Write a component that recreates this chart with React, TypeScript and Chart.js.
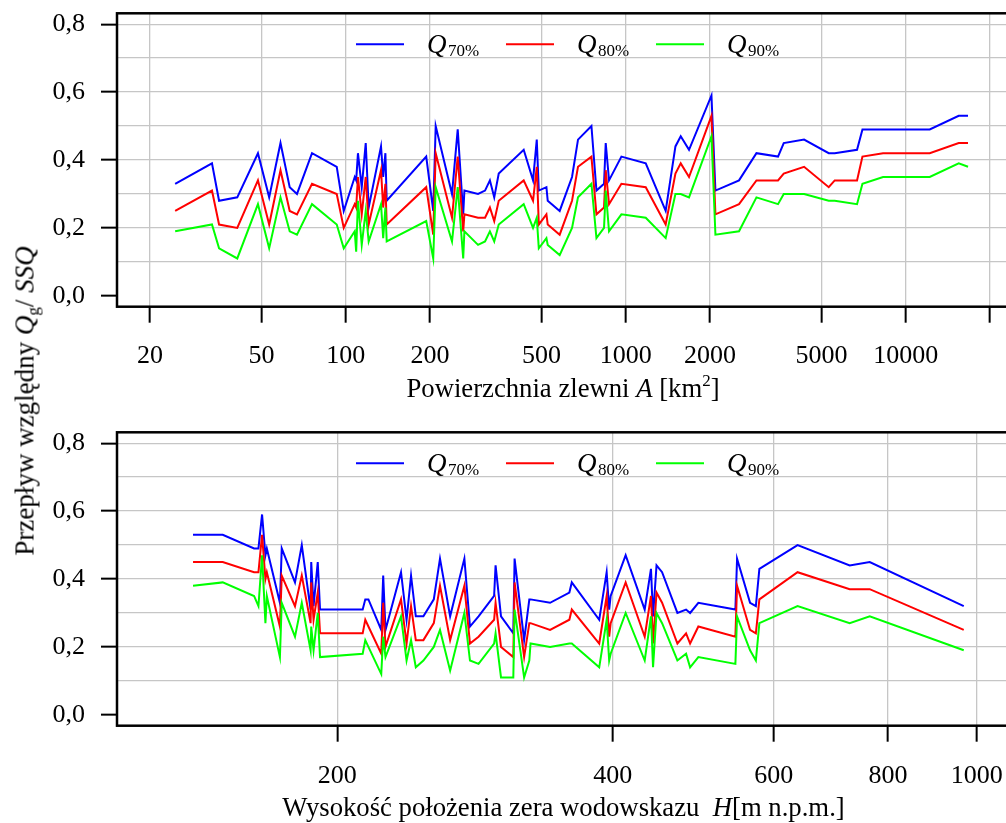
import React, { useEffect, useRef } from 'react';
import { Chart, registerables } from 'chart.js';

Chart.register(...registerables);

// ---------- DATA ----------
// Top panel: catchment area A [km2]
const topArea = [24.6, 33.3, 35.3, 41.0, 48.6, 53.3, 58.5, 63.1, 67.0, 75.8, 92.9, 98.4, 107.7, 109.0, 110.6, 114.1, 117.9, 120.8, 133.7, 136.1, 138.6, 140.1, 193.9, 205.4, 209.6, 239.7, 251.2, 262.8, 265.4, 296.9, 314.5, 327.3, 339.2, 352.0, 432.2, 466.7, 481.2, 489.3, 521.0, 526.6, 581.0, 643.1, 675.5, 754.3, 786.1, 836.6, 848.4, 871.8, 965.2, 1179, 1389, 1505, 1572, 1683, 2024, 2091, 2539, 2930, 3499, 3667, 4335, 5309, 5577, 6700, 7005, 8299, 12180, 15460, 16690];
const topQ70 = [0.33, 0.39, 0.28, 0.29, 0.42, 0.29, 0.45, 0.32, 0.30, 0.42, 0.38, 0.25, 0.35, 0.34, 0.42, 0.32, 0.45, 0.26, 0.44, 0.35, 0.42, 0.28, 0.41, 0.25, 0.50, 0.30, 0.49, 0.24, 0.31, 0.30, 0.31, 0.34, 0.29, 0.36, 0.43, 0.34, 0.46, 0.31, 0.32, 0.28, 0.25, 0.35, 0.46, 0.50, 0.31, 0.33, 0.45, 0.34, 0.41, 0.39, 0.25, 0.44, 0.47, 0.43, 0.59, 0.31, 0.34, 0.42, 0.41, 0.45, 0.46, 0.42, 0.42, 0.43, 0.49, 0.49, 0.49, 0.53, 0.53];
const topQ80 = [0.25, 0.31, 0.21, 0.20, 0.34, 0.21, 0.37, 0.25, 0.24, 0.33, 0.30, 0.20, 0.27, 0.26, 0.35, 0.24, 0.35, 0.21, 0.37, 0.26, 0.33, 0.21, 0.32, 0.18, 0.42, 0.23, 0.41, 0.19, 0.24, 0.23, 0.23, 0.26, 0.22, 0.28, 0.34, 0.28, 0.38, 0.21, 0.24, 0.21, 0.18, 0.28, 0.38, 0.41, 0.24, 0.26, 0.37, 0.27, 0.33, 0.32, 0.21, 0.36, 0.39, 0.35, 0.53, 0.24, 0.27, 0.34, 0.34, 0.36, 0.38, 0.32, 0.34, 0.34, 0.41, 0.42, 0.42, 0.45, 0.45];
const topQ90 = [0.19, 0.21, 0.14, 0.11, 0.27, 0.14, 0.29, 0.19, 0.18, 0.27, 0.21, 0.14, 0.19, 0.13, 0.28, 0.15, 0.25, 0.16, 0.27, 0.17, 0.26, 0.16, 0.22, 0.11, 0.32, 0.16, 0.32, 0.11, 0.19, 0.15, 0.16, 0.19, 0.16, 0.21, 0.27, 0.20, 0.23, 0.14, 0.17, 0.15, 0.12, 0.20, 0.29, 0.33, 0.17, 0.20, 0.31, 0.19, 0.24, 0.23, 0.17, 0.30, 0.30, 0.29, 0.47, 0.18, 0.19, 0.29, 0.27, 0.30, 0.30, 0.28, 0.28, 0.27, 0.33, 0.35, 0.35, 0.39, 0.38];
const topTicks = [20, 50, 100, 200, 500, 1000, 2000, 5000, 10000, 20000];
const topTickLabels = ['20', '50', '100', '200', '500', '1000', '2000', '5000', '10000', ''];

// Bottom panel: gauge zero elevation H [m a.s.l.]
const botHeight = [139.1, 149.9, 162.2, 164.0, 165.5, 166.9, 167.5, 173.1, 173.9, 179.8, 182.9, 187.0, 187.3, 188.4, 190.4, 191.5, 213.2, 214.6, 216.3, 223.4, 224.5, 225.8, 234.8, 238.1, 240.8, 243.7, 248.4, 255.0, 259.0, 265.7, 275.4, 279.3, 285.4, 296.8, 297.9, 302.0, 311.5, 312.5, 320.1, 324.3, 325.3, 341.7, 358.7, 360.9, 386.7, 394.0, 396.5, 398.0, 413.3, 433.6, 440.5, 442.8, 446.7, 453.0, 470.8, 481.2, 486.1, 496.3, 544.8, 547.1, 565.3, 573.6, 578.7, 637.1, 726.4, 764.0, 968.0];
const botQ70 = [0.53, 0.53, 0.49, 0.49, 0.59, 0.47, 0.49, 0.33, 0.49, 0.39, 0.50, 0.31, 0.45, 0.32, 0.45, 0.31, 0.31, 0.34, 0.34, 0.25, 0.41, 0.25, 0.42, 0.28, 0.41, 0.29, 0.29, 0.34, 0.46, 0.29, 0.46, 0.26, 0.29, 0.35, 0.44, 0.29, 0.24, 0.46, 0.22, 0.34, 0.34, 0.33, 0.36, 0.39, 0.28, 0.42, 0.31, 0.35, 0.47, 0.31, 0.43, 0.29, 0.44, 0.42, 0.30, 0.31, 0.30, 0.33, 0.31, 0.46, 0.33, 0.32, 0.43, 0.50, 0.44, 0.45, 0.32];
const botQ80 = [0.45, 0.45, 0.42, 0.42, 0.53, 0.40, 0.42, 0.26, 0.41, 0.32, 0.41, 0.27, 0.39, 0.28, 0.36, 0.24, 0.24, 0.28, 0.26, 0.18, 0.33, 0.20, 0.34, 0.21, 0.32, 0.22, 0.22, 0.27, 0.38, 0.22, 0.38, 0.21, 0.23, 0.28, 0.33, 0.20, 0.17, 0.39, 0.17, 0.27, 0.27, 0.25, 0.28, 0.31, 0.21, 0.35, 0.23, 0.27, 0.39, 0.23, 0.35, 0.21, 0.36, 0.33, 0.21, 0.24, 0.21, 0.26, 0.23, 0.38, 0.25, 0.24, 0.34, 0.42, 0.37, 0.37, 0.25];
const botQ90 = [0.38, 0.39, 0.35, 0.32, 0.47, 0.27, 0.35, 0.17, 0.33, 0.23, 0.33, 0.19, 0.26, 0.19, 0.30, 0.17, 0.18, 0.22, 0.20, 0.12, 0.23, 0.17, 0.29, 0.16, 0.22, 0.14, 0.16, 0.20, 0.25, 0.13, 0.30, 0.16, 0.15, 0.21, 0.24, 0.11, 0.11, 0.31, 0.11, 0.16, 0.21, 0.20, 0.21, 0.21, 0.14, 0.28, 0.16, 0.18, 0.30, 0.16, 0.29, 0.14, 0.30, 0.27, 0.16, 0.18, 0.14, 0.17, 0.15, 0.29, 0.19, 0.16, 0.27, 0.32, 0.27, 0.29, 0.19];
const botTicks = [200, 400, 600, 800, 1000];
const botTickLabels = ['200', '400', '600', '800', '1000'];

const yTicks = [0, 0.1, 0.2, 0.3, 0.4, 0.5, 0.6, 0.7, 0.8];
const yTickLabels = ['0,0', '', '0,2', '', '0,4', '', '0,6', '', '0,8'];

const seriesSubs = ['70%', '80%', '90%'];
const seriesColors = ['#0000ff', '#ff0000', '#00ff00'];

// ---------- STYLE ----------
const FONT = "'Liberation Serif', 'DejaVu Serif', serif";
const GRID = '#c6c6c6';

type Run = { t: string; size: number; italic?: boolean; dy?: number };

function drawRuns(ctx: any, runs: Run[], x: number, y: number, align: 'left' | 'center') {
  ctx.save();
  ctx.textBaseline = 'alphabetic';
  ctx.textAlign = 'left';
  ctx.fillStyle = '#000';
  const fonts = runs.map((r) => `${r.italic ? 'italic ' : ''}${r.size}px ${FONT}`);
  let total = 0;
  const widths = runs.map((r, i) => {
    ctx.font = fonts[i];
    const w = ctx.measureText(r.t).width;
    total += w;
    return w;
  });
  let cx = align === 'center' ? x - total / 2 : x;
  runs.forEach((r, i) => {
    ctx.font = fonts[i];
    ctx.fillText(r.t, cx, y + (r.dy || 0));
    cx += widths[i];
  });
  ctx.restore();
}

function makeConfig(p: any) {
  const datasets = [p.q70, p.q80, p.q90].map((vals: number[], i: number) => ({
    label: seriesSubs[i],
    data: p.xs.map((x: number, j: number) => ({ x, y: vals[j] })),
    borderColor: seriesColors[i],
    backgroundColor: seriesColors[i],
    borderWidth: 2,
    pointRadius: 0,
    tension: 0,
    fill: false,
    order: 2 - i,
  }));

  const zeroPad = (s: any) => {
    s.paddingLeft = 0;
    s.paddingRight = 0;
    s.paddingTop = 0;
    s.paddingBottom = 0;
  };

  const decorPlugin = {
    id: 'decor' + p.id,
    afterDraw(chart: any) {
      const { ctx, chartArea: a } = chart;
      // frame
      ctx.save();
      ctx.strokeStyle = '#000';
      ctx.lineWidth = 2.5;
      ctx.strokeRect(a.left, a.top, a.right - a.left, a.bottom - a.top);
      ctx.restore();
      // legend
      const ly = a.top + 31;
      for (let i = 0; i < 3; i++) {
        const x0 = a.left + 239 + i * 150;
        ctx.save();
        ctx.strokeStyle = seriesColors[i];
        ctx.lineWidth = 2;
        ctx.beginPath();
        ctx.moveTo(x0, ly);
        ctx.lineTo(x0 + 48, ly);
        ctx.stroke();
        ctx.restore();
        drawRuns(
          ctx,
          [
            { t: 'Q', size: 27, italic: true },
            { t: ' ', size: 6 },
            { t: seriesSubs[i], size: 17, dy: 3 },
          ],
          x0 + 71,
          a.top + 39.5,
          'left'
        );
      }
      // x axis title
      drawRuns(ctx, p.titleRuns, p.titleCenter, a.bottom + 90.5, 'center');
    },
  };

  return {
    type: 'line',
    data: { datasets },
    plugins: [decorPlugin],
    options: {
      responsive: false,
      animation: false,
      devicePixelRatio: 1,
      events: [],
      layout: { padding: { top: p.padTop, right: 8, left: 0, bottom: 0 } },
      plugins: { legend: { display: false }, tooltip: { enabled: false }, title: { display: false } },
      scales: {
        x: {
          type: 'logarithmic',
          min: p.xMin,
          max: p.xMax,
          afterBuildTicks: (s: any) => {
            s.ticks = p.xTicks.map((v: number) => ({ value: v }));
          },
          afterFit: (s: any) => {
            s.height = p.xAxisH;
            zeroPad(s);
          },
          ticks: {
            autoSkip: false,
            maxRotation: 0,
            minRotation: 0,
            padding: p.tickPad,
            color: '#000',
            font: { family: FONT, size: 26 },
            callback: (v: number) => {
              const i = p.xTicks.indexOf(v);
              return i >= 0 ? p.xTickLabels[i] : '';
            },
          },
          grid: { color: GRID, lineWidth: 1.3, tickColor: '#000', tickWidth: 2, tickLength: 16, drawTicks: true },
          border: { display: false },
        },
        y: {
          type: 'linear',
          min: -0.032,
          max: 0.832,
          afterBuildTicks: (s: any) => {
            s.ticks = yTicks.map((v) => ({ value: v }));
          },
          afterFit: (s: any) => {
            s.width = 117;
            zeroPad(s);
          },
          ticks: {
            autoSkip: false,
            padding: 16,
            color: '#000',
            font: { family: FONT, size: 26 },
            callback: (v: number) => {
              const i = yTicks.findIndex((t) => Math.abs(t - v) < 1e-9);
              return i >= 0 ? yTickLabels[i] : '';
            },
          },
          grid: {
            color: (c: any) => (c.tick && Math.abs(c.tick.value) < 1e-9 ? 'rgba(0,0,0,0)' : GRID),
            lineWidth: 1.3,
            tickColor: (c: any) => (yTickLabels[c.index] ? '#000' : 'rgba(0,0,0,0)'),
            tickWidth: 2,
            tickLength: 16,
          },
          border: { display: false },
        },
      },
    },
  };
}

export default function App() {
  const topRef = useRef<HTMLCanvasElement>(null);
  const botRef = useRef<HTMLCanvasElement>(null);

  useEffect(() => {
    const c1 = new Chart(
      topRef.current as any,
      makeConfig({
        id: 'top',
        xs: topArea,
        q70: topQ70,
        q80: topQ80,
        q90: topQ90,
        xMin: 15.25,
        xMax: 23960,
        xTicks: topTicks,
        xTickLabels: topTickLabels,
        padTop: 13.3,
        xAxisH: 410 - 306.7,
        tickPad: 18,
        titleCenter: 563,
        titleRuns: [
          { t: 'Powierzchnia zlewni ', size: 26.7 },
          { t: 'A', size: 26.7, italic: true },
          { t: ' [km', size: 26.7 },
          { t: '2', size: 17, dy: -11 },
          { t: ']', size: 26.7 },
        ],
      }) as any
    );
    const c2 = new Chart(
      botRef.current as any,
      makeConfig({
        id: 'bot',
        xs: botHeight,
        q70: botQ70,
        q80: botQ80,
        q90: botQ90,
        xMin: 114.87,
        xMax: 1093,
        xTicks: botTicks,
        xTickLabels: botTickLabels,
        padTop: 22.3,
        xAxisH: 413 - 315.7,
        tickPad: 19,
        titleCenter: 563.5,
        titleRuns: [
          { t: 'Wysokość położenia zera wodowskazu  ', size: 26.7 },
          { t: 'H', size: 26.7, italic: true },
          { t: '[m n.p.m.]', size: 26.7 },
        ],
      }) as any
    );
    return () => {
      c1.destroy();
      c2.destroy();
    };
  }, []);

  return (
    <div
      style={{
        position: 'absolute',
        left: 0,
        top: 0,
        width: 1006,
        height: 823,
        overflow: 'hidden',
        background: '#fff',
      }}
    >
      <canvas
        ref={topRef}
        width={1020}
        height={410}
        style={{ position: 'absolute', left: 0, top: 0, width: 1020, height: 410 }}
      />
      <canvas
        ref={botRef}
        width={1020}
        height={413}
        style={{ position: 'absolute', left: 0, top: 410, width: 1020, height: 413 }}
      />
      <div style={{ position: 'absolute', left: 24.5, top: 401, width: 0, height: 0 }}>
        <span
          style={{
            position: 'absolute',
            left: 0,
            top: 0,
            transform: 'translate(-50%, -50%) rotate(-90deg)',
            whiteSpace: 'nowrap',
            fontFamily: FONT,
            fontSize: 27,
            lineHeight: 1,
            color: '#000',
          }}
        >
          Przepływ względny <i>Q</i>
          <span style={{ fontSize: 17, position: 'relative', top: 5 }}>g</span>/ <i>SSQ</i>
        </span>
      </div>
    </div>
  );
}
